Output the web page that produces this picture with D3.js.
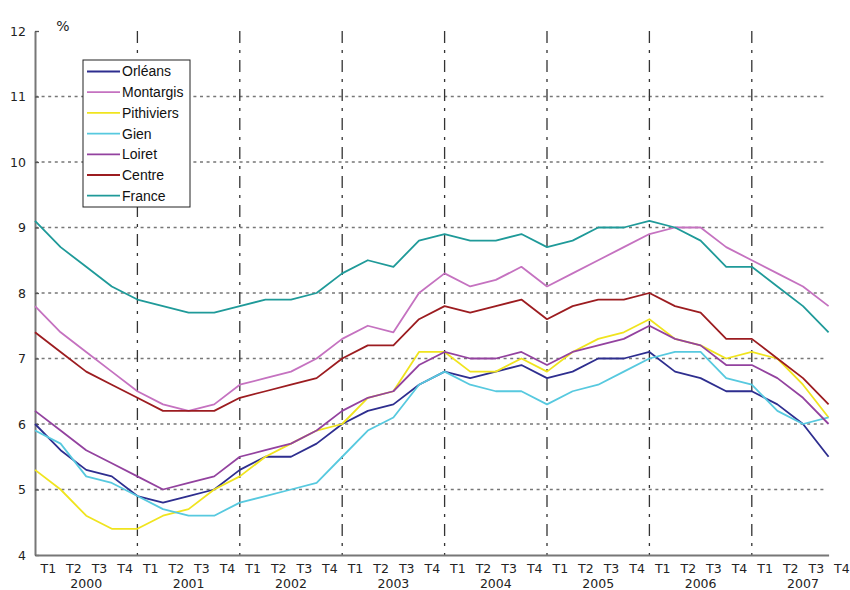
<!DOCTYPE html>
<html>
<head>
<meta charset="utf-8">
<script src="https://cdn.jsdelivr.net/npm/d3@7"></script>
<style>
  body { margin: 0; background: #fff; }
  svg { display: block; }
  .tick text { font-family: "DejaVu Sans", sans-serif; font-size: 12.5px; fill: #222; }
  .legend text { font-family: "Liberation Sans", Arial, sans-serif; font-size: 14px; fill: #111; }
</style>
</head>
<body>
<svg id="chart" width="850" height="590"></svg>
<script>
const years = ["2000", "2001", "2002", "2003", "2004", "2005", "2006", "2007"];
const quarters = ["T1", "T2", "T3", "T4"];
const yTicks = [4, 5, 6, 7, 8, 9, 10, 11, 12];

const orleans    = [6.0,5.6,5.3,5.2, 4.9,4.8,4.9,5.0, 5.3,5.5,5.5,5.7, 6.0,6.2,6.3,6.6, 6.8,6.7,6.8,6.9, 6.7,6.8,7.0,7.0, 7.1,6.8,6.7,6.5, 6.5,6.3,6.0,5.5];
const montargis  = [7.8,7.4,7.1,6.8, 6.5,6.3,6.2,6.3, 6.6,6.7,6.8,7.0, 7.3,7.5,7.4,8.0, 8.3,8.1,8.2,8.4, 8.1,8.3,8.5,8.7, 8.9,9.0,9.0,8.7, 8.5,8.3,8.1,7.8];
const pithiviers = [5.3,5.0,4.6,4.4, 4.4,4.6,4.7,5.0, 5.2,5.5,5.7,5.9, 6.0,6.4,6.5,7.1, 7.1,6.8,6.8,7.0, 6.8,7.1,7.3,7.4, 7.6,7.3,7.2,7.0, 7.1,7.0,6.6,6.1];
const gien       = [5.9,5.7,5.2,5.1, 4.9,4.7,4.6,4.6, 4.8,4.9,5.0,5.1, 5.5,5.9,6.1,6.6, 6.8,6.6,6.5,6.5, 6.3,6.5,6.6,6.8, 7.0,7.1,7.1,6.7, 6.6,6.2,6.0,6.1];
const loiret     = [6.2,5.9,5.6,5.4, 5.2,5.0,5.1,5.2, 5.5,5.6,5.7,5.9, 6.2,6.4,6.5,6.9, 7.1,7.0,7.0,7.1, 6.9,7.1,7.2,7.3, 7.5,7.3,7.2,6.9, 6.9,6.7,6.4,6.0];
const centre     = [7.4,7.1,6.8,6.6, 6.4,6.2,6.2,6.2, 6.4,6.5,6.6,6.7, 7.0,7.2,7.2,7.6, 7.8,7.7,7.8,7.9, 7.6,7.8,7.9,7.9, 8.0,7.8,7.7,7.3, 7.3,7.0,6.7,6.3];
const france     = [9.1,8.7,8.4,8.1, 7.9,7.8,7.7,7.7, 7.8,7.9,7.9,8.0, 8.3,8.5,8.4,8.8, 8.9,8.8,8.8,8.9, 8.7,8.8,9.0,9.0, 9.1,9.0,8.8,8.4, 8.4,8.1,7.8,7.4];

const seriesNames = ["Orléans", "Montargis", "Pithiviers", "Gien", "Loiret", "Centre", "France"];
const seriesValues = [orleans, montargis, pithiviers, gien, loiret, centre, france];
const seriesColours = ["#2e2e8f", "#c572c0", "#f0e41e", "#57c9df", "#93429f", "#9c1c20", "#1f9a99"];

const svg = d3.select("#chart");
const plot = { left: 35, right: 828.6, top: 31, bottom: 555 };

// one key per quarter, e.g. "2003-T2"
const keys = years.flatMap(yr => quarters.map(q => `${yr}-${q}`));
const x = d3.scalePoint().domain(keys).range([plot.left, plot.right]);
const step = x.step();
const y = d3.scaleLinear().domain([4, 12]).range([plot.bottom, plot.top]);

// horizontal dotted grid
svg.append("g")
    .selectAll("line")
    .data(yTicks.filter(t => t > 4 && t < 12))
    .join("line")
    .attr("x1", plot.left).attr("x2", plot.right - 2)
    .attr("y1", d => y(d)).attr("y2", d => y(d))
    .attr("stroke", "#777")
    .attr("stroke-width", 1.3)
    .attr("stroke-dasharray", "3,3.6");

// year separators (dash-dot)
svg.append("g")
    .selectAll("line")
    .data(years.slice(1))
    .join("line")
    .attr("x1", d => x(`${d}-T1`)).attr("x2", d => x(`${d}-T1`))
    .attr("y1", plot.top).attr("y2", plot.bottom)
    .attr("stroke", "#333")
    .attr("stroke-width", 1.3)
    .attr("stroke-dasharray", "12,7,3,7");

// y axis
const yAxis = svg.append("g")
    .attr("transform", `translate(${plot.left},0)`)
    .call(d3.axisLeft(y).tickValues(yTicks).tickSizeInner(-4).tickSizeOuter(0).tickPadding(9));
yAxis.select(".domain").attr("stroke", "#777").attr("stroke-width", 2);
yAxis.selectAll(".tick line").attr("stroke", "#555").attr("stroke-width", 1.3);

// x axis: quarter labels sit half a step right of their point
const xAxis = svg.append("g")
    .attr("transform", `translate(0,${plot.bottom})`)
    .call(d3.axisBottom(x).tickSize(0).tickPadding(9).tickFormat(d => d.split("-")[1]));
xAxis.select(".domain").attr("stroke", "#777").attr("stroke-width", 2);
xAxis.selectAll(".tick text").attr("dx", step / 2);

svg.append("g")
    .selectAll("text")
    .data(years)
    .join("text")
    .attr("x", d => (x(`${d}-T2`) + x(`${d}-T3`)) / 2 + step / 2)
    .attr("y", 588)
    .attr("text-anchor", "middle")
    .style("font-family", "DejaVu Sans, sans-serif")
    .style("font-size", "12.5px")
    .attr("fill", "#222")
    .text(d => d);

svg.append("text")
    .attr("x", 63).attr("y", 31)
    .attr("text-anchor", "middle")
    .style("font-family", "DejaVu Sans, sans-serif")
    .style("font-size", "14px")
    .attr("fill", "#222")
    .text("%");

// series lines
const line = d3.line()
    .x((d, i) => x(keys[i]))
    .y(d => y(d));

svg.append("g")
    .selectAll("path")
    .data(seriesValues)
    .join("path")
    .attr("fill", "none")
    .attr("stroke", (d, i) => seriesColours[i])
    .attr("stroke-width", 1.8)
    .attr("stroke-linejoin", "round")
    .attr("d", line);

// legend
const legend = svg.append("g")
    .attr("class", "legend")
    .attr("transform", "translate(83,60)");

legend.append("rect")
    .attr("width", 107).attr("height", 147)
    .attr("fill", "#fff")
    .attr("stroke", "#222")
    .attr("stroke-width", 1);

const rows = legend.selectAll(".row")
    .data(seriesNames)
    .join("g")
    .attr("class", "row")
    .attr("transform", (d, i) => `translate(0,${11.5 + i * 20.7})`);

rows.append("line")
    .attr("x1", 4).attr("x2", 37)
    .attr("stroke", (d, i) => seriesColours[i])
    .attr("stroke-width", 1.8);

rows.append("text")
    .attr("x", 39)
    .attr("dy", "0.35em")
    .text(d => d);
</script>
</body>
</html>
